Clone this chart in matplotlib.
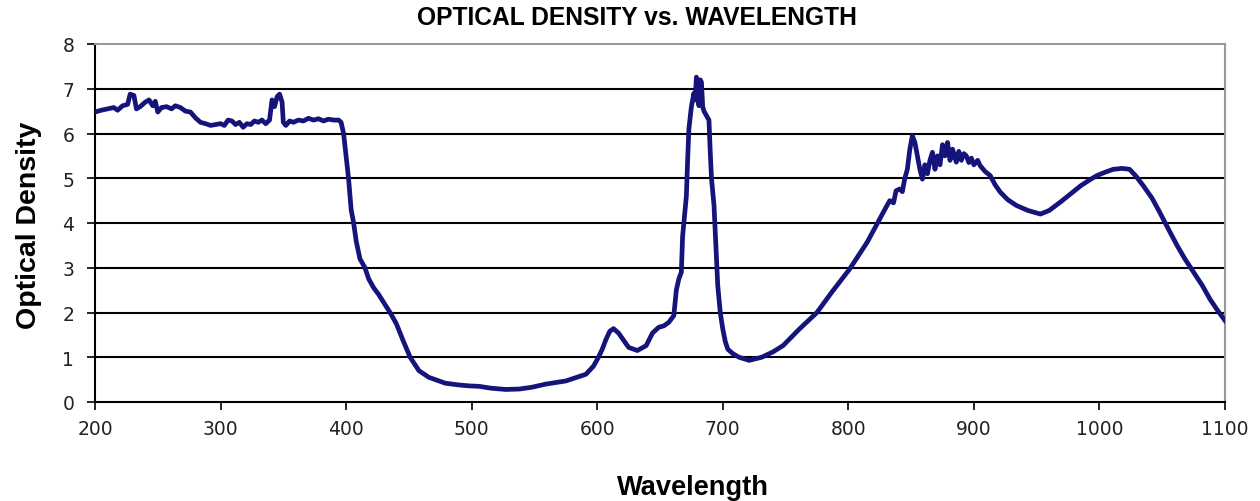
import matplotlib
matplotlib.use("Agg")
import matplotlib.pyplot as plt

wavelength = [200, 205, 210, 215, 218, 222, 226, 228, 231, 233, 236, 240, 243, 246, 248, 250, 253, 257, 261, 264,
              268, 272, 276, 280, 284, 288, 292, 296, 300, 303, 306, 309, 312, 315, 318, 321, 324, 327, 330, 333,
              336, 339, 341, 343, 345, 347, 349, 350, 352, 355, 358, 362, 366, 370, 374, 378, 382, 386, 390, 394,
              396, 398, 400, 402, 404, 406, 408, 411, 415, 418, 422, 426, 430, 435, 440, 445, 451, 458, 466, 479,
              490, 498, 506, 515, 527, 538, 548, 559, 575, 591, 597, 601, 604, 607, 610, 613, 617, 621, 625, 632,
              639, 644, 649, 653, 657, 661, 663, 665, 667, 668, 670, 671, 672, 673, 675, 677, 678, 679, 680, 681,
              682, 683, 684, 685, 687, 689, 690, 691, 693, 694, 696, 698, 700, 702, 704, 708, 713, 721, 731, 740,
              748, 761, 775, 787, 801, 815, 825, 830, 833, 836, 838, 841, 843, 845, 847, 849, 851, 853, 855, 857,
              859, 861, 863, 865, 867, 869, 871, 873, 875, 877, 879, 881, 883, 886, 888, 890, 892, 894, 896, 898,
              900, 903, 905, 909, 913, 917, 921, 927, 934, 943, 953, 960, 969, 977, 985, 992, 998, 1005, 1011, 1018,
              1024, 1029, 1035, 1042, 1048, 1055, 1062, 1068, 1075, 1082, 1088, 1094, 1100]
optical_density = [6.48, 6.52, 6.55, 6.58, 6.52, 6.62, 6.65, 6.88, 6.85, 6.55, 6.60, 6.70, 6.75, 6.62, 6.72, 6.48, 6.58, 6.60, 6.55, 6.62,
                   6.58, 6.50, 6.48, 6.35, 6.25, 6.22, 6.18, 6.20, 6.22, 6.18, 6.30, 6.28, 6.20, 6.25, 6.14, 6.22, 6.20, 6.28, 6.25, 6.30,
                   6.22, 6.30, 6.75, 6.60, 6.82, 6.88, 6.70, 6.25, 6.18, 6.28, 6.25, 6.30, 6.28, 6.34, 6.30, 6.33, 6.28, 6.32, 6.30, 6.30,
                   6.25, 6.00, 5.50, 4.98, 4.30, 4.00, 3.60, 3.20, 3.00, 2.75, 2.55, 2.40, 2.22, 2.00, 1.75, 1.40, 1.00, 0.70, 0.55, 0.42,
                   0.38, 0.36, 0.35, 0.31, 0.28, 0.29, 0.33, 0.40, 0.47, 0.62, 0.80, 1.00, 1.18, 1.40, 1.58, 1.64, 1.54, 1.38, 1.22, 1.15,
                   1.26, 1.54, 1.67, 1.70, 1.78, 1.93, 2.50, 2.75, 2.90, 3.70, 4.30, 4.60, 5.40, 6.10, 6.60, 6.90, 6.75, 7.26, 7.00, 6.62,
                   7.20, 7.15, 6.60, 6.50, 6.40, 6.30, 5.60, 5.00, 4.40, 3.80, 2.60, 2.00, 1.63, 1.35, 1.18, 1.08, 1.00, 0.93, 1.00, 1.12,
                   1.26, 1.63, 2.00, 2.46, 2.97, 3.57, 4.09, 4.35, 4.50, 4.45, 4.72, 4.76, 4.70, 5.00, 5.20, 5.65, 5.95, 5.80, 5.50, 5.20,
                   4.98, 5.30, 5.10, 5.40, 5.58, 5.20, 5.50, 5.30, 5.75, 5.50, 5.80, 5.40, 5.65, 5.36, 5.60, 5.40, 5.55, 5.50, 5.35, 5.45,
                   5.30, 5.40, 5.28, 5.15, 5.06, 4.85, 4.69, 4.52, 4.39, 4.28, 4.20, 4.28, 4.47, 4.65, 4.83, 4.96, 5.06, 5.14, 5.20, 5.22,
                   5.20, 5.05, 4.83, 4.55, 4.24, 3.86, 3.49, 3.20, 2.90, 2.60, 2.30, 2.05, 1.82]

x_ticks = [200, 300, 400, 500, 600, 700, 800, 900, 1000, 1100]
y_ticks = [0, 1, 2, 3, 4, 5, 6, 7, 8]

fig = plt.figure(figsize=(12.6, 5.02), dpi=100)
ax = fig.add_axes([95 / 1260, (502 - 403) / 502, (1225 - 95) / 1260, (403 - 45) / 502])

ax.plot(wavelength, optical_density, color="#14147a", linewidth=3.4, solid_joinstyle="round", zorder=3)

ax.set_xlim(200, 1100)
ax.set_ylim(0, 8)
ax.set_xticks(x_ticks)
ax.set_yticks(y_ticks)
ax.set_xticklabels([str(t) for t in x_ticks], fontsize=13.5, family="DejaVu Sans", color="#222222")
ax.set_yticklabels([str(t) for t in y_ticks], fontsize=13.5, family="DejaVu Sans", color="#222222")
ax.tick_params(axis="both", direction="out", length=6, width=1.2, color="black")
ax.tick_params(axis="x", pad=6)
ax.tick_params(axis="y", pad=9)

for v in y_ticks[1:-1]:
    ax.axhline(v, color="black", linewidth=1.5, zorder=1)

ax.spines["left"].set_color("black")
ax.spines["left"].set_linewidth(1.5)
ax.spines["bottom"].set_color("black")
ax.spines["bottom"].set_linewidth(1.5)
ax.spines["top"].set_color("#999999")
ax.spines["top"].set_linewidth(1.5)
ax.spines["right"].set_color("#999999")
ax.spines["right"].set_linewidth(1.5)

fig.text(637 / 1260, 1 - 18 / 502, "OPTICAL DENSITY vs. WAVELENGTH", ha="center", va="center",
         fontsize=17.7, fontweight="bold", family="Liberation Sans")
fig.text(693 / 1260, 1 - 488 / 502, "Wavelength", ha="center", va="center",
         fontsize=19.6, fontweight="bold", family="Liberation Sans")
fig.text(29 / 1260, 1 - 225 / 502, "Optical Density", ha="center", va="center", rotation=90,
         fontsize=20.5, fontweight="bold", family="Liberation Sans")

fig.savefig("out.png", dpi=100)
